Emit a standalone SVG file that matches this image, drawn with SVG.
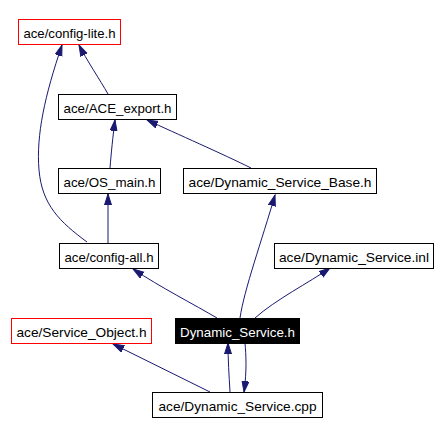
<svg xmlns="http://www.w3.org/2000/svg" width="438" height="435" viewBox="0 0 438 435">
<style>
  .box { fill: #ffffff; stroke: #000000; stroke-width: 1; }
  .red { fill: #ffffff; stroke: #ff0000; stroke-width: 1; }
  .cur { fill: #000000; stroke: #000000; stroke-width: 1; }
  text { font-family: "Liberation Sans", Arial, sans-serif; font-size: 13px; fill: #000000; text-anchor: middle; }
  .wt { fill: #ffffff; }
  .edge { fill: none; stroke: #191970; stroke-width: 1; marker-end: url(#arr); }
</style>
<defs>
  <marker id="arr" markerWidth="12" markerHeight="9" refX="11" refY="4" orient="auto" markerUnits="userSpaceOnUse">
    <path d="M0,0.5 L11,4 L0,7.5 z" fill="#191970" stroke="#191970" stroke-width="1"/>
  </marker>
</defs>
<rect width="438" height="435" fill="#ffffff"/>
<g id="edges">
  <path class="edge" d="M108,94 C100,80 86,59 79,45"/>
  <path class="edge" d="M87,242 C60,222 42,205 39,170 C36,135 45,95 62,45"/>
  <path class="edge" d="M110,168 C111,155 113,135 115,120"/>
  <path class="edge" d="M251,168 C225,155 175,133 147,120"/>
  <path class="edge" d="M108,243 L108,194"/>
  <path class="edge" d="M217,318 C195,305 160,287 133,269"/>
  <path class="edge" d="M240,318 C244,290 262,240 275,195"/>
  <path class="edge" d="M255,318 C275,300 310,282 330,268"/>
  <path class="edge" d="M210,392 L113,344"/>
  <path class="edge" d="M230,392 C229,375 228,360 228,343"/>
  <path class="edge" d="M245,343 C246,355 247,370 244,392"/>
</g>
<g id="config-lite">
  <rect class="red" x="18.5" y="19.5" width="102" height="25"/>
  <text x="69.5" y="37.5" textLength="92" lengthAdjust="spacingAndGlyphs">ace/config-lite.h</text>
</g>
<g id="ACE_export">
  <rect class="box" x="58.5" y="94.5" width="118" height="25"/>
  <text x="117.5" y="112.5" textLength="108" lengthAdjust="spacingAndGlyphs">ace/ACE_export.h</text>
</g>
<g id="OS_main">
  <rect class="box" x="58.5" y="168.5" width="102" height="25"/>
  <text x="109.5" y="186.5" textLength="92" lengthAdjust="spacingAndGlyphs">ace/OS_main.h</text>
</g>
<g id="Dynamic_Service_Base">
  <rect class="box" x="183.5" y="168.5" width="193" height="25"/>
  <text x="280" y="186.5" textLength="183" lengthAdjust="spacingAndGlyphs">ace/Dynamic_Service_Base.h</text>
</g>
<g id="config-all">
  <rect class="box" x="59.5" y="243.5" width="99" height="25"/>
  <text x="109" y="261.5" textLength="89" lengthAdjust="spacingAndGlyphs">ace/config-all.h</text>
</g>
<g id="Dynamic_Service_inl">
  <rect class="box" x="274.5" y="243.5" width="159" height="25"/>
  <text x="354" y="261.5" textLength="150" lengthAdjust="spacingAndGlyphs">ace/Dynamic_Service.inl</text>
</g>
<g id="Service_Object">
  <rect class="red" x="11.5" y="318.5" width="140" height="25"/>
  <text x="81.5" y="336.5" textLength="130" lengthAdjust="spacingAndGlyphs">ace/Service_Object.h</text>
</g>
<g id="Dynamic_Service_h">
  <rect class="cur" x="175.5" y="318.5" width="124" height="25"/>
  <text class="wt" x="237.5" y="336.5" textLength="115" lengthAdjust="spacingAndGlyphs">Dynamic_Service.h</text>
</g>
<g id="Dynamic_Service_cpp">
  <rect class="box" x="152.5" y="392.5" width="170" height="25"/>
  <text x="237.5" y="410.5" textLength="158" lengthAdjust="spacingAndGlyphs">ace/Dynamic_Service.cpp</text>
</g>
</svg>
